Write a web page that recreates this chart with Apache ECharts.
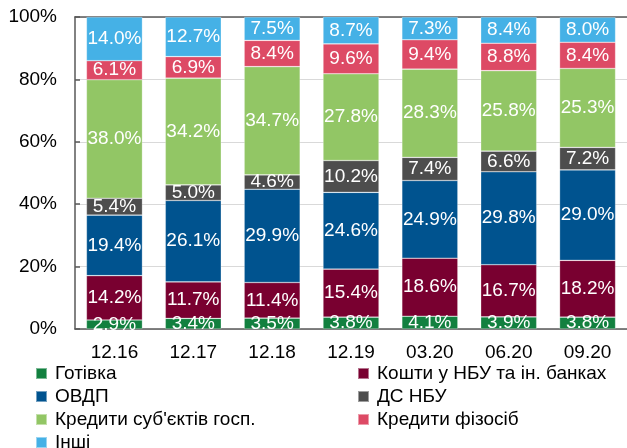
<!DOCTYPE html>
<html>
<head>
<meta charset="utf-8">
<script src="https://cdn.jsdelivr.net/npm/echarts@6/dist/echarts.min.js"></script>
<style>
  html, body { margin: 0; padding: 0; background: #fff; }
  #chart { width: 627px; height: 448px; }
</style>
</head>
<body>
<div id="chart"></div>
<script>
// дані, %
const categories = ['12.16', '12.17', '12.18', '12.19', '03.20', '06.20', '09.20'];
const cash      = [2.9, 3.4, 3.5, 3.8, 4.1, 3.9, 3.8];
const nbuBanks  = [14.2, 11.7, 11.4, 15.4, 18.6, 16.7, 18.2];
const ovdp      = [19.4, 26.1, 29.9, 24.6, 24.9, 29.8, 29.0];
const dsNbu     = [5.4, 5.0, 4.6, 10.2, 7.4, 6.6, 7.2];
const corpLoans = [38.0, 34.2, 34.7, 27.8, 28.3, 25.8, 25.3];
const retLoans  = [6.1, 6.9, 8.4, 9.6, 9.4, 8.8, 8.4];
const other     = [14.0, 12.7, 7.5, 8.7, 7.3, 8.4, 8.0];
const yTicks = [0, 20, 40, 60, 80, 100];

const FONT = '"Liberation Sans", Arial, sans-serif';

const chart = echarts.init(document.getElementById('chart'));

function bar(name, data, color) {
  return {
    name: name,
    type: 'bar',
    stack: 'total',
    barWidth: 56,
    data: data,
    itemStyle: {
      color: color,
      borderColor: 'rgba(255,255,255,0.45)',
      borderWidth: 0.6
    },
    label: {
      show: true,
      position: 'inside',
      color: '#fff',
      fontFamily: FONT,
      fontSize: 19,
      formatter: p => p.value.toFixed(1) + '%'
    }
  };
}

const legendText = {
  color: '#000',
  fontFamily: FONT,
  fontSize: 19,
  lineHeight: 19,
  padding: [0, 0, 0, 3]
};

const option = {
  animation: false,
  grid: { left: 75, top: 17, width: 553, height: 312 },
  legend: [
    {
      orient: 'vertical', left: 35, top: 364, height: 200, padding: 0, itemGap: 4,
      itemWidth: 11, itemHeight: 11, icon: 'rect',
      textStyle: legendText,
      data: ['Готівка', 'ОВДП', "Кредити суб'єктів госп.", 'Інші']
    },
    {
      orient: 'vertical', left: 357, top: 364, height: 200, padding: 0, itemGap: 4,
      itemWidth: 11, itemHeight: 11, icon: 'rect',
      textStyle: legendText,
      data: ['Кошти у НБУ та ін. банках', 'ДС НБУ', 'Кредити фізосіб']
    }
  ],
  xAxis: [
    {
      type: 'category',
      data: categories,
      axisLine: { lineStyle: { color: '#595959', width: 1.5 } },
      axisTick: { inside: true, length: 5, lineStyle: { color: '#595959', width: 1.5 } },
      axisLabel: { color: '#000', fontFamily: FONT, fontSize: 19, margin: 14 }
    },
    {
      type: 'category',
      position: 'top',
      data: categories,
      axisLine: { show: true, lineStyle: { color: '#595959', width: 1.5 } },
      axisTick: { show: false },
      axisLabel: { show: false }
    }
  ],
  yAxis: {
    type: 'value',
    min: yTicks[0],
    max: yTicks[yTicks.length - 1],
    interval: 20,
    axisLine: { show: true, lineStyle: { color: '#595959', width: 1.5 } },
    axisTick: { show: true, inside: true, length: 5, lineStyle: { color: '#595959', width: 1.5 } },
    splitLine: { lineStyle: { color: '#d9d9d9', width: 1 } },
    axisLabel: { color: '#000', fontFamily: FONT, fontSize: 19, margin: 18, formatter: '{value}%' }
  },
  series: [
    bar('Готівка', cash, '#12803f'),
    bar('Кошти у НБУ та ін. банках', nbuBanks, '#790030'),
    bar('ОВДП', ovdp, '#00538f'),
    bar('ДС НБУ', dsNbu, '#4d4d4d'),
    bar("Кредити суб'єктів госп.", corpLoans, '#92c665'),
    bar('Кредити фізосіб', retLoans, '#dd4a65'),
    bar('Інші', other, '#45b1e6')
  ]
};

chart.setOption(option);
</script>
</body>
</html>
